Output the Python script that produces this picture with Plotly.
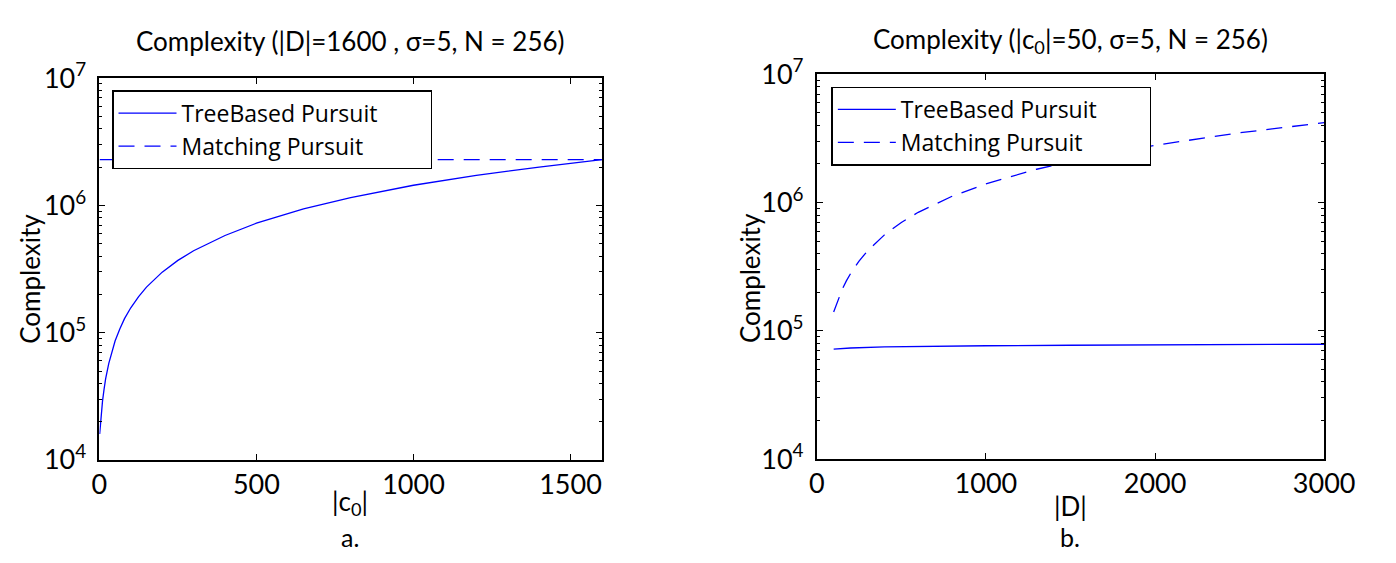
import plotly.graph_objects as go

# ---------------- data ----------------
# Panel a: complexity vs |c0|  (|D| = 1600)
c0 = [1, 3, 6, 10, 15, 20, 30, 40, 50, 65, 80, 100, 125, 150, 200, 250, 300,
      400, 500, 650, 800, 1000, 1200, 1400, 1600]
tree_a = [1.6e4, 1.9e4, 2.35e4, 2.9e4, 3.6e4, 4.35e4, 5.75e4, 7.2e4, 8.6e4,
          1.07e5, 1.29e5, 1.57e5, 1.92e5, 2.28e5, 2.99e5, 3.7e5, 4.4e5,
          5.8e5, 7.25e5, 9.4e5, 1.15e6, 1.44e6, 1.72e6, 2.0e6, 2.29e6]
mp_a_x = [1, 400, 800, 1200, 1600]
mp_a = [2.29e6, 2.29e6, 2.29e6, 2.29e6, 2.29e6]

# Panel b: complexity vs |D|  (|c0| = 50)
d_tree = [100, 200, 400, 700, 1000, 1500, 2000, 2500, 3000]
tree_b = [7.2e4, 7.35e4, 7.5e4, 7.6e4, 7.65e4, 7.72e4, 7.78e4, 7.82e4, 7.86e4]
d_mp = [100, 125, 150, 175, 200, 250, 300, 400, 500, 600, 800, 1000, 1300,
        1600, 2000, 2500, 3000]
mp_b = [1.4e5, 1.75e5, 2.1e5, 2.45e5, 2.8e5, 3.5e5, 4.2e5, 5.6e5, 7.0e5,
        8.4e5, 1.12e6, 1.4e6, 1.82e6, 2.24e6, 2.8e6, 3.5e6, 4.2e6]

xticks_a = [0, 500, 1000, 1500]
xticks_b = [0, 1000, 2000, 3000]
yticks = [1e4, 1e5, 1e6, 1e7]
ytick_text = ["10<sup>4</sup>", "10<sup>5</sup>", "10<sup>6</sup>", "10<sup>7</sup>"]
minor_y = [m * 10 ** e for e in range(4, 7) for m in range(2, 10)]

names = ["TreeBased Pursuit", "Matching Pursuit"]

# ---------------- figure ----------------
W, H = 1396, 563
FONT = "Lato"
BLUE = "#0000ff"
PAD = "\u00a0" * 8          # legend box is wider than its text in the reference
DASH = "16px,10px"
fig = go.Figure()

fig.add_trace(go.Scatter(x=c0, y=tree_a, mode="lines", name=names[0] + PAD,
                         line=dict(color=BLUE, width=1.3),
                         xaxis="x", yaxis="y", legend="legend"))
fig.add_trace(go.Scatter(x=mp_a_x, y=mp_a, mode="lines", name=names[1] + PAD,
                         line=dict(color=BLUE, width=1.3, dash=DASH),
                         xaxis="x", yaxis="y", legend="legend"))
fig.add_trace(go.Scatter(x=d_tree, y=tree_b, mode="lines", name=names[0] + PAD,
                         line=dict(color=BLUE, width=1.3),
                         xaxis="x2", yaxis="y2", legend="legend2"))
fig.add_trace(go.Scatter(x=d_mp, y=mp_b, mode="lines", name=names[1] + PAD,
                         line=dict(color=BLUE, width=1.3, dash=DASH),
                         xaxis="x2", yaxis="y2", legend="legend2"))


def px_x(p):
    return p / W


def px_y(p):
    return (H - p) / H


TICKFONT = dict(family=FONT, size=27, color="black")
common_x = dict(showgrid=False, zeroline=False, showline=True, linecolor="black",
                linewidth=1.6, mirror="ticks", ticks="inside", ticklen=6,
                tickcolor="black", tickfont=TICKFONT, ticklabelstandoff=0)
common_y = dict(type="log", range=[4, 7], showgrid=False, zeroline=False, showline=True,
                linecolor="black", linewidth=1.6, mirror="ticks", ticks="inside",
                ticklen=6, tickcolor="black",
                tickvals=yticks, ticktext=ytick_text, tickfont=TICKFONT,
                ticklabelstandoff=6,
                minor=dict(ticks="inside", ticklen=3, tickcolor="black", tickvals=minor_y))

LEGFONT = dict(family="Open Sans", size=23, color="black")
fig.update_layout(
    width=W, height=H,
    margin=dict(l=0, r=0, t=0, b=0),
    paper_bgcolor="white", plot_bgcolor="white",
    font=dict(family=FONT, size=26, color="black"),
    xaxis=dict(common_x, domain=[px_x(94), px_x(611)], range=[0, 1600],
               tickvals=xticks_a, anchor="y"),
    yaxis=dict(common_y, domain=[px_y(469), px_y(61)], anchor="x"),
    xaxis2=dict(common_x, domain=[px_x(832), px_x(1354)], range=[0, 3000],
                tickvals=xticks_b, anchor="y2"),
    yaxis2=dict(common_y, domain=[px_y(468), px_y(57)], anchor="x2"),
    legend=dict(x=px_x(107), y=px_y(74), xanchor="left", yanchor="top",
                bgcolor="white", bordercolor="black", borderwidth=1.5,
                font=LEGFONT, itemwidth=58, tracegroupgap=0),
    legend2=dict(x=px_x(847), y=px_y(70), xanchor="left", yanchor="top",
                 bgcolor="white", bordercolor="black", borderwidth=1.5,
                 font=LEGFONT, itemwidth=58, tracegroupgap=0),
)

annos = [
    dict(text="Complexity (|D|=1600 , σ=5, N = 256)", x=px_x(352), y=px_y(21),
         yanchor="middle", size=26),
    dict(text="Complexity (|c<sub>0</sub>|=50, σ=5, N = 256)", x=px_x(1093), y=px_y(21),
         yanchor="middle", size=26),
    dict(text="|c<sub>0</sub>|", x=px_x(352), y=px_y(535), yanchor="bottom", size=26),
    dict(text="a.", x=px_x(352), y=px_y(569), yanchor="bottom", size=25),
    dict(text="|D|", x=px_x(1093), y=px_y(518), yanchor="middle", size=26),
    dict(text="b.", x=px_x(1093), y=px_y(569), yanchor="bottom", size=25),
]
for a in annos:
    size = a.pop("size")
    fig.add_annotation(xref="paper", yref="paper", showarrow=False,
                       xanchor="center", font=dict(family=FONT, size=size, color="black"),
                       **a)
for xp in (23, 764):
    fig.add_annotation(xref="paper", yref="paper", showarrow=False,
                       text="Complexity", x=px_x(xp), y=px_y(275), textangle=-90,
                       xanchor="center", yanchor="middle",
                       font=dict(family=FONT, size=26, color="black"))

fig.write_html("out.html")
